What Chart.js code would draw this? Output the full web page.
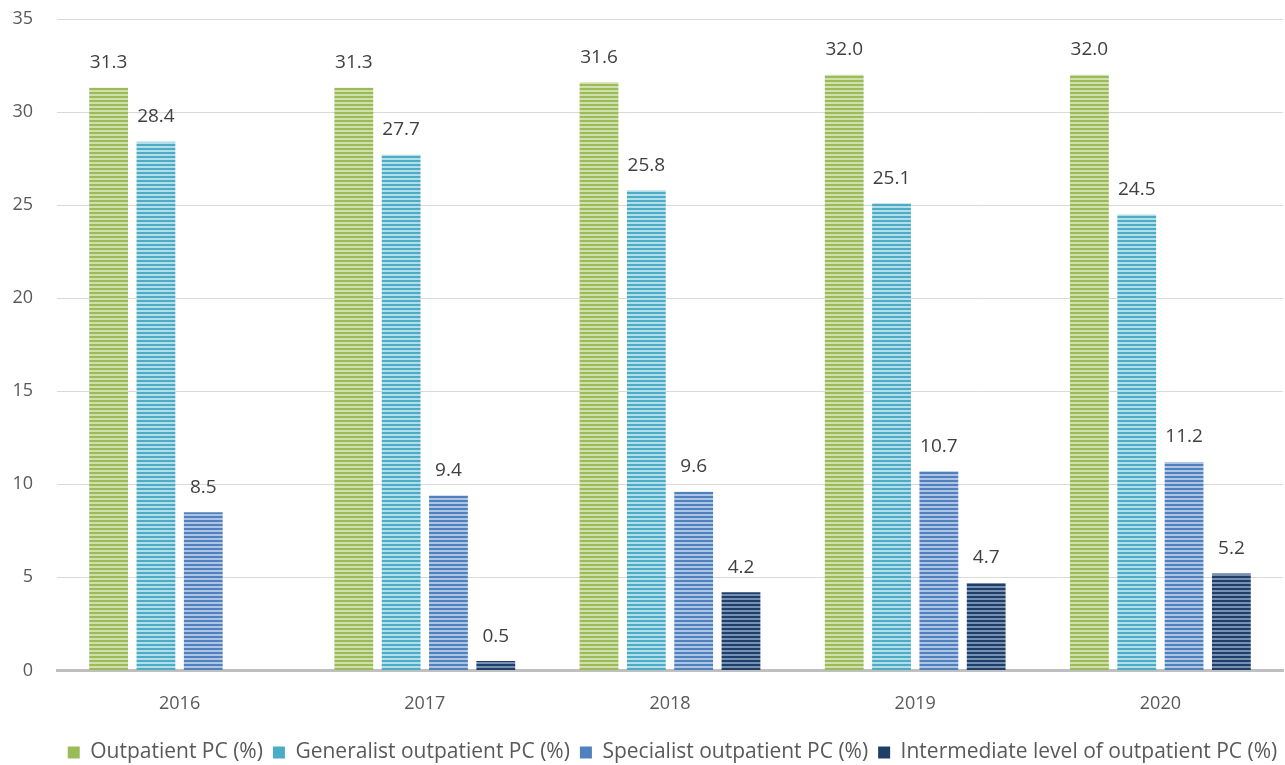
<!DOCTYPE html>
<html>
<head>
<meta charset="utf-8">
<script src="https://cdn.jsdelivr.net/npm/chart.js@4.4.1/dist/chart.umd.min.js"></script>
<style>
  html, body { margin: 0; padding: 0; background: #fff; }
  #wrap { position: relative; width: 1285px; height: 765px; }
</style>
</head>
<body>
<div id="wrap"><canvas id="chart" width="1285" height="765"></canvas></div>
<script>
const years = ['2016', '2017', '2018', '2019', '2020'];
const outpatient = [31.3, 31.3, 31.6, 32.0, 32.0];
const generalist = [28.4, 27.7, 25.8, 25.1, 24.5];
const specialist = [8.5, 9.4, 9.6, 10.7, 11.2];
const intermediate = [null, 0.5, 4.2, 4.7, 5.2];

const seriesNames = [
    'Outpatient PC (%)',
    'Generalist outpatient PC (%)',
    'Specialist outpatient PC (%)',
    'Intermediate level of outpatient PC (%)'
];

// stripe pattern: dark line / light line, like the office fill
function stripes(dark, light) {
    const c = document.createElement('canvas');
    c.width = 4;
    c.height = 4;
    const g = c.getContext('2d');
    g.fillStyle = light;
    g.fillRect(0, 0, 4, 4);
    g.fillStyle = dark;
    g.fillRect(0, 0, 4, 2);
    return g.createPattern(c, 'repeat');
}

const fonts = '"Open Sans", "DejaVu Sans", sans-serif';

const valueLabels = {
    id: 'valueLabels',
    afterDatasetsDraw(chart) {
        const ctx = chart.ctx;
        ctx.save();
        ctx.font = '19px ' + fonts;
        ctx.fillStyle = '#404040';
        ctx.textAlign = 'center';
        ctx.textBaseline = 'middle';
        chart.data.datasets.forEach((ds, i) => {
            chart.getDatasetMeta(i).data.forEach((bar, j) => {
                const v = ds.data[j];
                if (v === null || v === undefined) return;
                ctx.fillText(v.toFixed(1), bar.x, bar.y - 25);
            });
        });
        ctx.restore();
    }
};

// the legend in the original sits a bit right of centre
const shiftLegend = {
    id: 'shiftLegend',
    afterLayout(chart) {
        chart.legend.left += 31;
        chart.legend.right += 31;
        chart.legend.top += 2;
        chart.legend.bottom += 2;
    }
};

const ctx = document.getElementById('chart').getContext('2d');

new Chart(ctx, {
    type: 'bar',
    data: {
        labels: years,
        datasets: [
            {label: seriesNames[0], data: outpatient, backgroundColor: stripes('#9bbb59', '#cfe0ac'), legendColor: '#9bbb59'},
            {label: seriesNames[1], data: generalist, backgroundColor: stripes('#4bacc6', '#b3dde9'), legendColor: '#4bacc6'},
            {label: seriesNames[2], data: specialist, backgroundColor: stripes('#4f81bd', '#adc4e4'), legendColor: '#4f81bd'},
            {label: seriesNames[3], data: intermediate, backgroundColor: stripes('#1f3f68', '#7791b5'), legendColor: '#1f3f68'}
        ]
    },
    options: {
        responsive: false,
        animation: false,
        layout: {padding: {left: 0, right: 2, top: 19, bottom: -6}},
        datasets: {
            bar: {categoryPercentage: 0.772, barPercentage: 0.82}
        },
        plugins: {
            legend: {
                position: 'bottom',
                labels: {
                    font: {family: fonts, size: 21},
                    color: '#595959',
                    boxWidth: 12,
                    boxHeight: 12,
                    padding: 10,
                    generateLabels(chart) {
                        return chart.data.datasets.map((ds, i) => ({
                            text: ds.label,
                            fillStyle: ds.legendColor,
                            strokeStyle: ds.legendColor,
                            lineWidth: 0,
                            fontColor: '#595959',
                            datasetIndex: i
                        }));
                    }
                }
            },
            tooltip: {enabled: false}
        },
        scales: {
            x: {
                grid: {display: false},
                border: {color: '#bfbfbf', width: 3},
                ticks: {font: {family: fonts, size: 18}, color: '#595959', padding: 15}
            },
            y: {
                min: 0,
                max: 35,
                ticks: {stepSize: 5, font: {family: fonts, size: 18}, color: '#595959', padding: 24},
                grid: {color: '#d9d9d9', lineWidth: 1, drawTicks: false},
                border: {display: false},
                afterFit(scale) {
                    scale.width = 57;
                    scale.paddingTop = 0;
                }
            }
        }
    },
    plugins: [valueLabels, shiftLegend]
});
</script>
</body>
</html>
